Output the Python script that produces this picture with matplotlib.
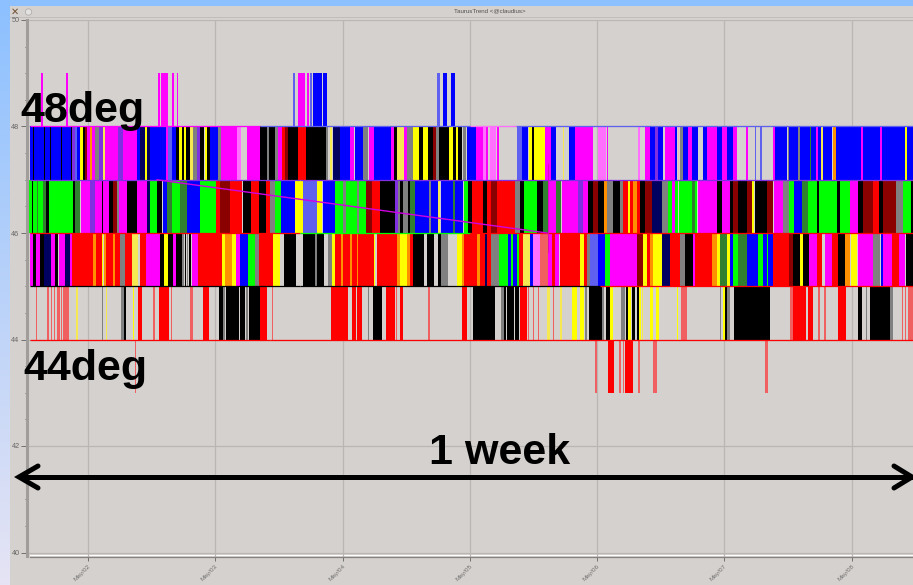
import numpy as np
import matplotlib
matplotlib.use("Agg")
import matplotlib.pyplot as plt
from matplotlib.patches import Rectangle, Circle

plt.rcParams['font.family'] = ['Liberation Sans', 'DejaVu Sans']

W, H = 913, 585

# Time unit: trend sample number (about 11.3 minutes per sample)
tick_samples = [88, 215, 342.5, 469.5, 597, 724, 851.5]
tick_labels = ["May/02", "May/03", "May/04", "May/05", "May/06", "May/07", "May/08"]
y_major = [40, 42, 44, 46, 48, 50]

colors = dict(b='#0000ff', m='#ff00ff', k='#000000', y='#ffff00', r='#ff0000',
              g='#00ff00', a='#808080', d='#8b0000', o='#ff9000', n='#000060',
              p='#ff70ff', l='#f06060', u='#8030e0', e='#f5e850', c='#6060f0',
              f='#ffb0b0', v='#308030')

level_48_49 = [(40.5, 42.5, 'm'), (65.5, 68, 'm'), (158, 160, 'm'), (161, 168, 'm'), (172, 174, 'm'),
               (176.5, 178, 'm'), (293, 295, 'c'), (298, 305, 'm'), (307, 309, 'm'), (310, 312, 'c'),
               (313, 322, 'b'), (323, 327, 'b'), (437, 440, 'c'), (443, 447, 'b'), (451, 455, 'b')]

level_47_48 = [(30, 33, 'b'), (33, 34, 'k'), (34, 44, 'b'), (44, 45, 'k'), (45, 50, 'b'), (50, 51, 'k'),
               (51, 61, 'b'), (61, 62, 'k'), (62, 71, 'b'), (71, 72, 'k'), (72, 75, 'u'), (75, 77, 'c'),
               (77, 80, 'b'), (80, 83, 'y'), (83, 85, 'k'), (85, 87, 'd'), (87, 90, 'm'), (90, 92, 'o'),
               (92, 95, 'm'), (95, 99, 'a'), (99, 103, 'u'), (103, 105, 'e'), (105, 118, 'm'), (118, 123, 'u'),
               (123, 137, 'm'), (137, 140, 'b'), (140, 145, 'n'), (145, 147, 'y'), (147, 150, 'n'), (150, 166, 'b'),
               (166, 168, 'm'), (168, 172, 'c'), (172, 176, 'b'), (176, 179, 'k'), (179, 182, 'y'), (182, 184, 'k'),
               (184, 186, 'y'), (186, 190, 'k'), (190, 193, 'e'), (193, 197, 'a'), (197, 200, 'u'), (200, 204, 'k'),
               (205, 207, 'y'), (207, 210, 'k'), (210, 218, 'b'), (218, 221, 'a'), (221, 237, 'm'), (237, 241, 'p'),
               (247, 260, 'm'), (260, 267, 'k'), (267, 269, 'a'), (269, 275, 'k'), (275, 278, 'a'), (278, 282, 'm'),
               (282, 285, 'r'), (285, 288, 'd'), (288, 298, 'k'), (298, 306, 'r'), (306, 326, 'k'), (326, 328, 'a'),
               (330, 332, 'e'), (333, 340, 'n'), (340, 350, 'b'), (350, 354, 'm'), (355, 363, 'b'), (363, 368, 'a'),
               (369, 374, 'm'), (374, 391, 'b'), (391, 394, 'm'), (394, 397, 'k'), (397, 404, 'e'), (404, 407, 'm'),
               (407, 413, 'a'), (413, 419, 'y'), (419, 423, 'k'), (423, 428, 'y'), (428, 433, 'k'), (433, 436, 'd'),
               (436, 439, 'a'), (439, 449, 'k'), (449, 453, 'y'), (453, 456, 'k'), (456, 458, 'y'), (458, 462, 'k'),
               (463, 466, 'a'), (467, 476, 'b'), (476, 483, 'm'), (483, 486, 'p'), (486, 488, 'm'), (490, 496, 'p'),
               (497, 499, 'm'), (517, 522, 'c'), (522, 528, 'b'), (529, 532, 'y'), (532, 534, 'k'), (534, 545, 'y'),
               (545, 551, 'm'), (551, 556, 'b'), (562.5, 564, 'e'), (569, 575, 'b'), (575, 593, 'm'), (598, 606, 'p'),
               (606.5, 608, 'm'), (638, 640, 'p'), (645, 650, 'm'), (650, 655, 'b'), (655, 658, 'u'), (658, 663, 'b'),
               (665, 675, 'm'), (675, 677, 'b'), (677.5, 678.5, 'f'), (680, 683, 'a'), (683, 688, 'b'), (688, 692, 'm'),
               (692, 698, 'b'), (703, 707, 'b'), (707, 717, 'm'), (717, 722, 'b'), (722, 727, 'm'), (727, 733, 'b'),
               (733, 737, 'm'), (746, 747.5, 'm'), (755, 756, 'c'), (760, 762, 'c'), (773, 775, 'm'), (775, 787, 'b'),
               (787.5, 789, 'a'), (789, 798, 'b'), (798, 800, 'a'), (800, 810, 'b'), (810, 811, 'v'), (811, 816, 'b'),
               (816, 818, 'm'), (818, 821, 'b'), (821, 823, 'e'), (823, 832, 'b'), (833, 836, 'o'), (836, 861, 'b'),
               (861, 863, 'm'), (863, 880, 'b'), (880, 882, 'm'), (882, 905, 'b'), (905, 907, 'y'), (907, 913, 'b')]

level_46_47 = [(29, 32, 'g'), (32, 33, 'k'), (33, 37, 'g'), (37, 38, 'v'), (38, 43, 'g'), (43, 46, 'v'),
               (46, 49, 'k'), (49, 73, 'g'), (73, 75, 'k'), (75, 80, 'v'), (81, 90, 'm'), (90, 95, 'u'), (95, 102, 'm'),
               (102, 103, 'k'), (103, 109, 'm'), (109, 113, 'k'), (113, 117, 'd'), (117, 119, 'a'), (119, 127, 'm'),
               (127, 137, 'k'), (137, 147, 'm'), (147, 150, 'n'), (150, 157, 'g'), (157, 162, 'k'), (163, 167, 'b'),
               (167, 172, 'v'), (172, 180, 'g'), (180, 187, 'v'), (187, 200, 'b'), (200, 216, 'g'), (216, 220, 'r'),
               (220, 230, 'd'), (230, 242, 'r'), (243, 251, 'k'), (251, 259, 'r'), (259, 266, 'k'), (266, 270, 'r'),
               (270, 275, 'a'), (275, 281, 'g'), (281, 295, 'b'), (295, 303, 'y'), (303, 317, 'c'), (317, 322, 'y'),
               (323, 335, 'b'), (335, 343, 'g'), (343, 346, 'a'), (346, 357, 'g'), (357, 359, 'a'), (359, 366, 'g'),
               (366, 372, 'd'), (372, 380, 'r'), (380, 395, 'k'), (395, 398, 'u'), (398, 400, 'a'), (400, 403, 'k'),
               (403, 408, 'a'), (408, 410, 'k'), (410, 415, 'v'), (415, 419, 'b'), (419, 429, 'b'), (429, 431, 'a'),
               (431, 438, 'b'), (438, 440, 'e'), (441, 453, 'b'), (453, 455, 'v'), (455, 463, 'b'), (464, 468, 'g'),
               (468, 472, 'k'), (472, 483, 'r'), (483, 487, 'k'), (487, 491, 'r'), (491, 497, 'd'), (497, 515, 'r'),
               (515, 520, 'a'), (520, 524, 'k'), (524, 537, 'g'), (537, 543, 'k'), (543, 548, 'v'), (548, 556, 'm'),
               (556, 561, 'v'), (562, 578, 'm'), (578, 583, 'u'), (583, 588, 'm'), (588, 593, 'k'), (593, 598, 'd'),
               (598, 604, 'k'), (604, 607, 'o'), (607, 613, 'a'), (613, 620, 'k'), (620, 623, 'a'), (623, 628, 'r'),
               (628, 630, 'y'), (630, 633, 'r'), (633, 637, 'o'), (637, 640, 'r'), (640, 645, 'k'), (645, 652, 'd'),
               (652, 662, 'n'), (662, 668, 'a'), (668, 672, 'g'), (672, 675, 'm'), (675, 678, 'g'), (679, 692, 'g'),
               (692, 695, 'v'), (695, 697, 'g'), (698, 717, 'm'), (717, 722, 'k'), (722, 730, 'm'), (730, 733, 'k'),
               (733, 738, 'd'), (738, 747, 'k'), (747, 752, 'd'), (752, 754, 'y'), (755, 767, 'k'), (767, 773, 'd'),
               (774, 783, 'm'), (783, 789, 'a'), (789, 794, 'g'), (794, 802, 'b'), (802, 808, 'v'), (808, 817, 'g'),
               (817, 819, 'k'), (819, 837, 'g'), (837, 840, 'k'), (840, 850, 'g'), (850, 858, 'm'), (858, 863, 'k'),
               (863, 873, 'd'), (873, 879, 'r'), (879, 883, 'k'), (883, 896, 'd'), (896, 903, 'a'), (903, 911, 'g'),
               (911, 913, 'k')]

level_45_46 = [(30, 33, 'm'), (33, 36, 'k'), (36, 40, 'm'), (40, 44, 'k'), (44, 51, 'n'), (51, 55, 'm'),
               (55, 58, 'k'), (59, 65, 'm'), (65, 70, 'n'), (70, 72, 'm'), (72, 93, 'r'), (93, 96, 'o'), (96, 102, 'r'),
               (102, 103, 'y'), (104, 106, 'o'), (106, 113, 'r'), (113, 115, 'o'), (115, 120, 'r'), (120, 125, 'a'),
               (125, 132, 'r'), (132, 138, 'e'), (140, 146, 'r'), (146, 160, 'm'), (160, 164, 'k'), (164, 168, 'y'),
               (168, 173, 'k'), (173, 176, 'm'), (176, 182, 'k'), (182, 184, 'a'), (185, 186, 'k'), (187, 188, 'a'),
               (189, 191, 'k'), (192, 198, 'm'), (198, 222, 'r'), (222, 225, 'y'), (225, 232, 'o'), (232, 236, 'y'),
               (236, 240, 'm'), (240, 248, 'b'), (248, 255, 'g'), (255, 259, 'a'), (259, 273, 'r'), (273, 280, 'y'),
               (284, 296, 'k'), (303, 315, 'k'), (315, 317, 'a'), (317, 324, 'k'), (328, 332, 'a'), (332, 335, 'y'),
               (335, 341, 'r'), (341, 343, 'o'), (343, 350, 'r'), (350, 352, 'o'), (352, 357, 'r'), (357, 358, 'o'),
               (358, 374, 'r'), (374, 375, 'y'), (377, 397, 'r'), (397, 400, 'o'), (400, 407, 'y'), (407, 410, 'o'),
               (410, 413, 'r'), (413, 424, 'k'), (427, 434, 'k'), (438, 441, 'k'), (441, 448, 'a'), (457, 462, 'y'),
               (462, 464, 'o'), (464, 477, 'r'), (477, 480, 'o'), (480, 485, 'r'), (485, 487, 'n'), (487, 491, 'r'),
               (491, 499, 'a'), (499, 508, 'g'), (508, 511, 'b'), (511, 513, 'g'), (513, 517, 'b'), (517, 519, 'g'),
               (519, 523, 'r'), (523, 530, 'e'), (530, 533, 'b'), (533, 540, 'p'), (540, 548, 'l'), (548, 552, 'm'),
               (552, 555, 'r'), (555, 559, 'm'), (560, 580, 'r'), (580, 584, 'y'), (584, 587, 'r'), (587, 590, 'a'),
               (590, 598, 'c'), (598, 605, 'b'), (605, 610, 'g'), (610, 637, 'm'), (637, 643, 'd'), (643, 647, 'y'),
               (647, 650, 'r'), (650, 653, 'o'), (653, 662, 'y'), (662, 670, 'n'), (670, 680, 'r'), (680, 685, 'a'),
               (685, 693, 'k'), (693, 695, 'm'), (695, 712, 'r'), (712, 717, 'o'), (717, 720, 'y'), (720, 727, 'v'),
               (727, 730, 'y'), (730, 733, 'b'), (733, 738, 'g'), (738, 747, 'v'), (747, 758, 'b'), (758, 763, 'g'),
               (763, 767, 'b'), (767, 768, 'g'), (768, 773, 'b'), (773, 789, 'r'), (789, 793, 'd'), (793, 800, 'k'),
               (800, 803, 'y'), (803, 809, 'k'), (809, 817, 'm'), (817, 822, 'r'), (825, 832, 'm'), (832, 838, 'r'),
               (838, 845, 'k'), (845, 850, 'o'), (851, 857, 'y'), (858, 873, 'm'), (873, 880, 'a'), (881, 883, 'b'),
               (883, 892, 'm'), (892, 899, 'r'), (899, 905, 'm'), (906, 913, 'k')]

level_44_45 = [(36, 37, 'l'), (47, 48.5, 'l'), (51, 52, 'l'), (54, 55, 'l'), (57, 60, 'l'), (61, 62, 'l'),
               (63, 69, 'l'), (76, 78, 'e'), (102, 103, 'a'), (106, 107, 'e'), (121, 124, 'a'), (124, 126, 'k'),
               (133, 134, 'y'), (138, 142, 'r'), (153, 155, 'l'), (159, 169, 'r'), (171, 172, 'l'), (190, 193, 'l'),
               (203, 209, 'r'), (219, 223, 'k'), (223, 225, 'a'), (226, 239, 'k'), (240, 245, 'k'), (246, 248, 'a'),
               (249, 260, 'k'), (260, 263, 'r'), (263, 267, 'r'), (272, 273, 'l'), (331, 348, 'r'), (352, 356, 'r'),
               (357, 362, 'r'), (367.5, 369, 'a'), (373, 382, 'k'), (386, 395, 'r'), (396, 397, 'l'), (400, 403, 'r'),
               (428, 430, 'l'), (462, 467, 'r'), (473, 495, 'k'), (501, 504, 'a'), (504, 506, 'k'), (507, 514, 'k'),
               (515, 519, 'k'), (520, 527, 'r'), (528, 529, 'l'), (533, 534, 'l'), (538, 539, 'l'), (547, 550, 'e'),
               (553, 554, 'l'), (560, 562, 'e'), (572, 577, 'y'), (580, 584, 'y'), (585, 587, 'a'), (589, 602, 'k'),
               (602, 604, 'a'), (606, 610, 'k'), (610, 613, 'y'), (621, 625, 'a'), (626, 628, 'k'), (628, 631, 'y'),
               (632, 635, 'k'), (637, 639, 'k'), (639, 641, 'y'), (642, 643, 'e'), (650, 653, 'y'), (656, 659, 'y'),
               (677, 678, 'y'), (681, 687, 'l'), (720, 721, 'a'), (723, 725, 'y'), (725, 727, 'k'), (727, 730, 'a'),
               (734, 770, 'k'), (790, 793, 'l'), (793, 806, 'r'), (808, 813, 'r'), (818, 820, 'l'), (824, 826, 'l'),
               (838, 846, 'r'), (858, 862, 'k'), (866, 867, 'a'), (870, 890, 'k'), (890, 893, 'a'), (902, 903, 'l'),
               (905, 906, 'l'), (908, 913, 'l')]

level_43_44 = [(134.5, 135.5, 'l'), (595, 596.5, 'l'), (608, 614, 'r'), (619, 620.5, 'l'), (622.5, 624, 'l'),
               (625, 633, 'r'), (638, 639.5, 'l'), (653, 657, 'l'), (765, 768, 'l')]

outline_48 = [(30, 260, 'm'), (260, 470, 'c'), (470, 516, 'p'), (516, 650, 'c'), (650, 770, 'c'), (770, 913, 'c')]
outline_47 = [(30, 300, 'u'), (300, 913, 'u')]
outline_46 = [(30, 70, 'r'), (70, 300, 'r'), (300, 470, 'g'), (470, 913, 'r')]
outline_45 = [(30, 300, 'k'), (300, 600, 'k'), (600, 913, 'r')]
outline_44 = [(30, 270, 'r'), (270, 913, 'r')]

diag_x = [157, 547]
diag_y = [47.0, 46.0]

fig = plt.figure(figsize=(W / 100, H / 100), dpi=100)

# window chrome, in image pixels
bg = fig.add_axes([0, 0, 1, 1])
bg.set_xlim(0, W)
bg.set_ylim(H, 0)
bg.axis('off')
grad = np.zeros((H, 1, 3))
top = np.array([0x8c, 0xc0, 0xff]) / 255
bot = np.array([0xe6, 0xe4, 0xf4]) / 255
for i in range(H):
    grad[i, 0] = top + (bot - top) * i / (H - 1)
bg.imshow(grad, extent=[0, W, H, 0], aspect='auto', zorder=0)
bg.add_patch(Rectangle((10, 6), W - 10, H - 6, fc='#d5d1ce', ec='none', zorder=1))
bg.add_patch(Rectangle((10, 16.5), W - 10, 1.5, fc='#c0bdba', ec='none', zorder=2))
bg.add_patch(Circle((28.5, 12), 3.2, fc='#e4e2e0', ec='#b0aeac', lw=0.6, zorder=2))
bg.text(15, 12, "✕", fontsize=7, ha='center', va='center', color='#705030', zorder=3,
        family=['DejaVu Sans'])
bg.text(490, 11, "TaurusTrend <@claudius>", fontsize=4.4, ha='center', va='center', color='#505050', zorder=3)
bg.add_patch(Rectangle((30, 554.5), W - 30, 1.5, fc='#ffffff', ec='none', zorder=2))

# trend axes: x 27..913 px, y 20 (value 50) .. 556 (below value 40)
px_per_unit = (552.5 - 20) / 10
y_bottom = 40 - (556.5 - 552.5) / px_per_unit
ax = fig.add_axes([26.5 / W, (H - 556.5) / H, (W - 26.5) / W, (556.5 - 20) / H])
ax.patch.set_alpha(0)
ax.set_xlim(26.5, W)
ax.set_ylim(y_bottom, 50)

for s in ['top', 'right']:
    ax.spines[s].set_visible(False)
ax.spines['left'].set_color('#a09d9b')
ax.spines['left'].set_linewidth(2.2)
ax.spines['bottom'].set_color('#85827f')
ax.spines['bottom'].set_linewidth(0.9)
ax.spines['bottom'].set_bounds(30, W)

ax.set_xticks(tick_samples)
ax.set_xticklabels(tick_labels, rotation=45, ha='right', rotation_mode='anchor',
                   fontsize=4.6, color='#707070')
ax.set_yticks(y_major)
ax.set_yticks(np.arange(40, 50.01, 0.5), minor=True)
ax.tick_params(axis='y', which='major', length=4, width=0.7, color='#707070', labelsize=5.2,
               labelcolor='#666666', pad=1)
ax.tick_params(axis='y', which='minor', length=1.5, width=0.7, color='#707070')
ax.tick_params(axis='x', which='major', length=3, width=0.7, color='#707070', pad=2)
ax.grid(True, which='major', color='#b9b6b4', linewidth=0.9, zorder=0)
ax.set_axisbelow(True)

bands = [(48, level_48_49), (47, level_47_48), (46, level_46_47), (45, level_45_46), (44, level_44_45),
         (43, level_43_44)]
for base, runs in bands:
    lefts = [r[0] for r in runs]
    widths = [r[1] - r[0] for r in runs]
    cols = [colors[r[2]] for r in runs]
    ax.bar(lefts, [1] * len(runs), widths, bottom=base, align='edge', color=cols, linewidth=0, zorder=2)

for level, segs in [(48, outline_48), (47, outline_47), (46, outline_46), (45, outline_45), (44, outline_44)]:
    for a, b, c in segs:
        ax.plot([a, b], [level, level], color=colors[c], lw=0.9, zorder=3, solid_capstyle='butt')

ax.plot(diag_x, diag_y, color='#d000e0', lw=1.0, zorder=4)
ax.plot([548, 548], [45.65, 47.3], color='#e000c0', lw=0.7, zorder=4)

# annotations placed on top, in image pixels
over = fig.add_axes([0, 0, 1, 1])
over.set_xlim(0, W)
over.set_ylim(H, 0)
over.axis('off')
over.patch.set_alpha(0)
font = dict(fontsize=31, fontweight='bold', color='black', va='baseline', family=['Liberation Sans'])
over.text(20, 122, "48deg", ha='left', **font)
over.text(23, 380, "44deg", ha='left', **font)
over.text(429, 464, "1 week", ha='left', **font)
over.plot([19, W + 2], [477, 477], color='black', lw=3.6, solid_capstyle='butt', clip_on=False)
over.plot([38, 19, 38], [466, 477, 488], color='black', lw=3.6, solid_capstyle='round', solid_joinstyle='miter')
over.plot([W - 19, W - 1, W - 19], [466, 477, 488], color='black', lw=3.6, solid_capstyle='round',
          solid_joinstyle='miter')

fig.savefig('out.png', dpi=100)
